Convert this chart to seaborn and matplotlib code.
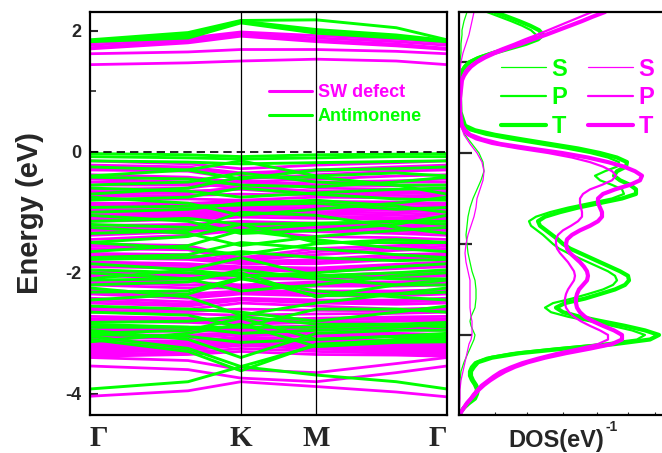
import numpy as np
import pandas as pd
import matplotlib
matplotlib.use("Agg")
import matplotlib.pyplot as plt
import seaborn as sns
from matplotlib.lines import Line2D

sns.set_theme(style="white")
plt.rcParams["font.family"] = ["Liberation Sans", "DejaVu Sans"]
plt.rcParams["axes.unicode_minus"] = False

MAG = "#FF00FF"
GRN = "#00FF00"

# ---------------- band structure data ----------------
kpath_labels = ["Γ", "K", "M", "Γ"]
kpath_pos = [0.0, 1.0, 1.5, 2.366]
kpts = [0.0, 0.65, 1.0, 1.5, 2.03, 2.366]   # Γ, Γ-K, K, M, M-Γ, Γ

# SW defect bands (energies in eV at kpts)
sw_bands = [
    [1.80, 1.88, 1.98, 1.92, 1.86, 1.80],
    [1.76, 1.85, 1.95, 1.88, 1.82, 1.76],
    [1.72, 1.82, 1.93, 1.84, 1.78, 1.71],
    [1.70, 1.80, 1.91, 1.82, 1.75, 1.69],
    [1.62, 1.65, 1.69, 1.69, 1.66, 1.62],
    [1.44, 1.47, 1.50, 1.53, 1.50, 1.44],
    [-0.15, -0.20, -0.28, -0.22, -0.18, -0.15],
    [-0.22, -0.25, -0.35, -0.30, -0.25, -0.22],
    [-0.26, -0.28, -0.38, -0.32, -0.28, -0.26],
    [-0.30, -0.32, -0.45, -0.38, -0.32, -0.30],
    [-0.38, -0.42, -0.50, -0.45, -0.40, -0.38],
    [-0.45, -0.50, -0.55, -0.50, -0.48, -0.45],
    [-0.50, -0.52, -0.60, -0.55, -0.50, -0.50],
    [-0.55, -0.55, -0.48, -0.55, -0.56, -0.55],
    [-0.62, -0.60, -0.50, -0.60, -0.62, -0.62],
    [-0.66, -0.65, -0.62, -0.70, -0.66, -0.66],
    [-0.70, -0.68, -0.58, -0.65, -0.68, -0.70],
    [-0.74, -0.72, -0.70, -0.72, -0.72, -0.74],
    [-0.78, -0.78, -0.80, -0.75, -0.76, -0.78],
    [-0.85, -0.85, -0.82, -0.82, -0.83, -0.85],
    [-0.88, -0.88, -0.86, -0.85, -0.86, -0.88],
    [-0.92, -0.92, -0.90, -0.88, -0.90, -0.92],
    [-0.96, -0.96, -0.93, -0.92, -0.94, -0.96],
    [-1.00, -1.00, -0.95, -0.95, -0.97, -1.00],
    [-1.04, -1.03, -0.98, -0.99, -1.01, -1.04],
    [-1.08, -1.06, -1.00, -1.02, -1.05, -1.08],
    [-1.12, -1.09, -1.04, -1.06, -1.09, -1.12],
    [-1.15, -1.12, -1.08, -1.10, -1.12, -1.15],
    [-1.22, -1.20, -1.15, -1.18, -1.20, -1.22],
    [-1.26, -1.24, -1.18, -1.22, -1.24, -1.26],
    [-1.30, -1.28, -1.22, -1.25, -1.27, -1.30],
    [-1.34, -1.30, -1.25, -1.29, -1.31, -1.34],
    [-1.38, -1.32, -1.28, -1.32, -1.35, -1.38],
    [-1.45, -1.38, -1.30, -1.40, -1.42, -1.45],
    [-1.52, -1.55, -1.75, -1.60, -1.55, -1.52],
    [-1.56, -1.58, -1.78, -1.65, -1.59, -1.56],
    [-1.60, -1.62, -1.80, -1.70, -1.63, -1.60],
    [-1.68, -1.70, -1.82, -1.78, -1.70, -1.68],
    [-1.72, -1.74, -1.84, -1.82, -1.74, -1.72],
    [-1.75, -1.78, -1.85, -1.85, -1.78, -1.75],
    [-1.82, -1.85, -1.90, -1.92, -1.86, -1.82],
    [-1.86, -1.88, -1.92, -1.95, -1.90, -1.86],
    [-1.90, -1.92, -1.95, -1.98, -1.93, -1.90],
    [-1.98, -2.00, -2.00, -2.05, -2.00, -1.98],
    [-2.02, -2.04, -2.05, -2.08, -2.04, -2.02],
    [-2.05, -2.08, -2.10, -2.10, -2.08, -2.05],
    [-2.12, -2.15, -2.20, -2.15, -2.15, -2.12],
    [-2.16, -2.20, -2.22, -2.18, -2.18, -2.16],
    [-2.20, -2.25, -2.25, -2.22, -2.22, -2.20],
    [-2.28, -2.35, -2.30, -2.30, -2.30, -2.28],
    [-2.32, -2.38, -2.32, -2.34, -2.34, -2.32],
    [-2.35, -2.42, -2.35, -2.38, -2.38, -2.35],
    [-2.42, -2.48, -2.42, -2.45, -2.45, -2.42],
    [-2.46, -2.52, -2.44, -2.48, -2.48, -2.46],
    [-2.50, -2.55, -2.45, -2.50, -2.52, -2.50],
    [-2.58, -2.60, -2.50, -2.55, -2.60, -2.58],
    [-2.62, -2.64, -2.60, -2.62, -2.63, -2.62],
    [-2.65, -2.68, -2.70, -2.68, -2.67, -2.65],
    [-2.72, -2.75, -2.78, -2.75, -2.73, -2.72],
    [-2.76, -2.78, -2.82, -2.78, -2.76, -2.76],
    [-2.80, -2.82, -2.85, -2.82, -2.80, -2.80],
    [-2.88, -2.90, -2.90, -2.88, -2.87, -2.88],
    [-2.92, -2.94, -2.92, -2.92, -2.90, -2.92],
    [-2.95, -2.97, -2.95, -2.95, -2.94, -2.95],
    [-3.02, -3.03, -2.98, -3.00, -3.00, -3.02],
    [-3.05, -3.05, -3.00, -3.02, -3.03, -3.05],
    [-3.08, -3.08, -3.02, -3.05, -3.06, -3.08],
    [-3.14, -3.13, -3.06, -3.10, -3.12, -3.14],
    [-3.17, -3.16, -3.08, -3.12, -3.15, -3.17],
    [-3.20, -3.18, -3.10, -3.15, -3.18, -3.20],
    [-3.23, -3.20, -3.12, -3.18, -3.21, -3.23],
    [-3.26, -3.23, -3.15, -3.20, -3.24, -3.26],
    [-3.29, -3.26, -3.18, -3.23, -3.27, -3.29],
    [-3.32, -3.28, -3.20, -3.26, -3.30, -3.32],
    [-3.35, -3.32, -3.25, -3.30, -3.33, -3.35],
    [-3.38, -3.35, -3.30, -3.35, -3.36, -3.38],
    [-3.40, -3.45, -3.60, -3.65, -3.50, -3.40],
    [-3.54, -3.60, -3.74, -3.80, -3.65, -3.54],
    [-4.04, -3.95, -3.80, -3.88, -3.97, -4.05],
]

# Pristine antimonene bands
sb_bands = [
    [1.85, 1.97, 2.17, 2.18, 2.05, 1.85],
    [1.84, 1.94, 2.16, 2.02, 1.93, 1.84],
    [1.83, 1.91, 2.15, 1.98, 1.90, 1.83],
    [1.82, 1.88, 2.13, 1.96, 1.88, 1.82],
    [-0.03, -0.05, -0.08, -0.05, -0.04, -0.03],
    [-0.08, -0.10, -0.12, -0.10, -0.08, -0.08],
    [-0.15, -0.17, -0.20, -0.18, -0.16, -0.15],
    [-0.25, -0.30, -0.45, -0.30, -0.28, -0.25],
    [-0.40, -0.30, -0.15, -0.40, -0.35, -0.40],
    [-0.42, -0.45, -0.55, -0.58, -0.50, -0.42],
    [-0.55, -0.50, -0.35, -0.50, -0.55, -0.55],
    [-0.60, -0.65, -0.75, -0.68, -0.62, -0.60],
    [-0.70, -0.60, -0.42, -0.42, -0.55, -0.70],
    [-0.80, -0.75, -0.60, -0.70, -0.78, -0.80],
    [-0.75, -0.85, -1.05, -0.95, -0.85, -0.75],
    [-0.92, -0.90, -0.88, -0.85, -0.95, -0.92],
    [-1.00, -0.95, -0.85, -0.80, -0.90, -1.00],
    [-1.05, -1.15, -1.35, -1.30, -1.20, -1.05],
    [-1.15, -1.10, -1.20, -1.18, -1.15, -1.15],
    [-1.20, -1.25, -1.30, -1.20, -1.15, -1.20],
    [-1.25, -1.35, -1.55, -1.40, -1.30, -1.25],
    [-1.35, -1.30, -1.00, -1.05, -1.25, -1.35],
    [-1.50, -1.40, -1.20, -1.50, -1.50, -1.50],
    [-1.50, -1.60, -1.70, -1.52, -1.45, -1.50],
    [-1.65, -1.55, -1.30, -1.45, -1.60, -1.65],
    [-1.75, -1.70, -1.50, -1.60, -1.70, -1.75],
    [-1.78, -1.75, -1.65, -1.75, -1.80, -1.78],
    [-1.85, -1.95, -2.05, -2.00, -1.90, -1.85],
    [-1.95, -2.00, -2.05, -2.05, -2.00, -1.95],
    [-2.00, -2.10, -2.30, -2.20, -2.05, -2.00],
    [-2.10, -1.95, -1.75, -2.05, -2.10, -2.10],
    [-2.12, -2.10, -2.00, -2.40, -2.20, -2.12],
    [-2.20, -2.15, -1.95, -2.10, -2.20, -2.20],
    [-2.25, -2.40, -2.70, -2.50, -2.35, -2.25],
    [-2.32, -2.30, -2.08, -2.38, -2.35, -2.32],
    [-2.45, -2.35, -2.10, -2.30, -2.40, -2.45],
    [-2.55, -2.60, -2.65, -2.80, -2.65, -2.55],
    [-2.65, -2.70, -2.90, -2.60, -2.60, -2.65],
    [-2.82, -2.80, -2.72, -2.85, -2.85, -2.82],
    [-2.85, -2.90, -3.00, -2.95, -2.90, -2.85],
    [-2.90, -2.90, -2.90, -2.90, -2.85, -2.90],
    [-2.95, -3.10, -3.40, -3.00, -2.95, -2.95],
    [-3.00, -2.95, -2.75, -3.10, -3.05, -3.00],
    [-3.02, -3.05, -3.15, -3.10, -3.05, -3.02],
    [-3.05, -3.25, -3.55, -3.20, -3.10, -3.05],
    [-3.10, -3.30, -3.62, -3.18, -3.12, -3.10],
    [-3.14, -3.00, -2.85, -3.22, -3.15, -3.14],
    [-3.92, -3.80, -3.55, -3.69, -3.80, -3.92],
]

# ---------------- DOS data ----------------
# s-projected DOS (thin lines), coarse energy grid
dos_energy_s = [1.55, 1.45, 1.35, 1.3, 1.2, 1.1, 1.0, 0.9, 0.8, 0.6, 0.4, 0.3, 0.2, 0.1,
                0.0, -0.1, -0.2, -0.3, -0.4, -0.5, -0.6, -0.7, -0.8, -0.9, -1.0, -1.1,
                -1.2, -1.3, -1.4, -1.5, -1.6, -1.7, -1.8, -1.85, -1.9, -1.95, -2.0, -2.05,
                -2.1, -2.15, -2.2, -2.3, -2.4, -2.5, -2.6, -2.7, -2.8, -2.87]
sb_dos_s = [0.8, 0.5, 0.3, 0.3, 0.2, 0.2, 0.1, 0.1, 0.1, 0.1, 0.1, 0.2, 0.6, 1.3, 2.0, 2.4,
            2.5, 2.2, 1.8, 1.4, 1.1, 0.9, 0.8, 0.7, 0.8, 0.9, 1.1, 1.3, 1.6, 1.7, 1.7, 1.6,
            1.2, 1.1, 1.2, 1.4, 1.6, 1.5, 1.3, 1.1, 0.9, 0.5, 0.2, 0.1, 0.05, 0.05, 0.05, 0.05]
sw_dos_s = [1.5, 1.3, 1.1, 1.0, 0.7, 0.4, 0.2, 0.1, 0.1, 0.1, 0.1, 0.2, 0.5, 1.1, 1.8, 2.3,
            2.5, 2.4, 2.1, 1.8, 1.7, 1.5, 1.2, 0.9, 0.7, 0.6, 0.7, 0.9, 1.1, 1.1, 1.1, 1.1,
            1.2, 1.3, 1.3, 1.3, 1.3, 1.2, 1.0, 0.9, 0.8, 0.6, 0.4, 0.2, 0.1, 0.1, 0.05, 0.05]

# p-projected and total DOS, finer energy grid
dos_energy = [1.55, 1.50, 1.45, 1.40, 1.35, 1.30, 1.25, 1.20, 1.15, 1.10, 1.05, 1.00, 0.95,
              0.90, 0.85, 0.80, 0.60, 0.45,
              0.30, 0.25, 0.20, 0.15, 0.10, 0.05, 0.00, -0.05, -0.10, -0.15, -0.20, -0.25,
              -0.30, -0.35, -0.40, -0.45, -0.50, -0.55, -0.60, -0.65, -0.70, -0.75, -0.80,
              -0.85, -0.90, -0.95, -1.00, -1.05, -1.10, -1.15, -1.20, -1.25, -1.30, -1.35,
              -1.40, -1.45, -1.50, -1.55, -1.60, -1.65, -1.70, -1.75, -1.80, -1.85, -1.90,
              -1.95, -2.00, -2.05, -2.10, -2.15, -2.20, -2.25, -2.30, -2.35, -2.40, -2.45,
              -2.50, -2.55, -2.60, -2.65, -2.70, -2.75, -2.80, -2.85, -2.88]
sb_dos_p = [2.8, 4.0, 5.2, 6.3, 7.2, 7.7, 7.3, 6.1, 4.6, 3.1, 1.8, 0.9, 0.5, 0.25, 0.15, 0.1,
            0.1, 0.13,
            0.4, 1.1, 2.7, 5.1, 7.9, 10.7, 13.1, 14.9, 16.0, 15.8, 14.6, 13.6, 14.1, 15.3,
            16.3, 16.5, 15.3, 13.1, 10.9, 9.1, 7.7, 7.0, 7.2, 7.8, 8.4, 8.9, 9.4, 10.0, 10.9,
            11.9, 12.9, 13.9, 14.9, 15.6, 15.8, 15.4, 14.4, 12.9, 11.3, 9.4, 8.6, 9.2, 10.9,
            13.1, 15.3, 17.3, 18.6, 17.8, 14.3, 9.5, 5.3, 2.8, 1.6, 1.2, 1.0, 1.0, 1.2, 1.5,
            1.7, 1.6, 1.4, 0.8, 0.4, 0.13, 0.1]
sb_dos_t = [3.6, 4.8, 6.0, 7.1, 8.0, 8.4, 7.9, 6.7, 5.1, 3.5, 2.1, 1.1, 0.6, 0.3, 0.2, 0.15,
            0.1, 0.15,
            0.6, 1.6, 3.6, 6.3, 9.1, 11.9, 14.1, 15.8, 16.8, 16.7, 15.8, 15.5, 16.1, 17.1,
            17.7, 17.7, 16.3, 14.1, 11.9, 10.1, 8.6, 7.9, 8.1, 8.7, 9.3, 9.9, 10.4, 11.1,
            12.1, 13.1, 14.1, 15.1, 16.1, 16.9, 17.0, 16.6, 15.6, 14.1, 12.6, 10.6, 9.7,
            10.4, 12.1, 14.3, 16.6, 18.6, 20.0, 19.1, 15.6, 10.6, 6.1, 3.3, 1.9, 1.5, 1.2,
            1.2, 1.4, 1.7, 1.9, 1.8, 1.6, 1.0, 0.5, 0.15, 0.1]
sw_dos_p = [13.3, 12.2, 11.1, 10.0, 8.9, 7.8, 6.6, 5.5, 4.3, 3.2, 2.3, 1.6, 1.0, 0.6, 0.4, 0.2,
            0.1, 0.1,
            0.2, 0.4, 0.8, 1.7, 3.3, 5.9, 8.9, 11.3, 13.1, 14.4, 15.3, 15.7, 15.3, 14.3, 13.1,
            12.4, 12.1, 12.1, 12.2, 12.3, 12.3, 11.9, 11.2, 10.4, 9.9, 9.7, 9.7, 9.8, 10.1,
            10.5, 10.9, 11.2, 11.5, 11.6, 11.5, 11.2, 10.9, 10.7, 10.6, 10.6, 10.7, 11.0,
            11.5, 12.2, 13.1, 14.1, 14.9, 14.9, 13.9, 11.9, 9.7, 7.9, 6.3, 5.1, 4.1, 3.4, 2.8,
            2.2, 1.8, 1.4, 1.1, 0.7, 0.4, 0.2, 0.1]
sw_dos_t = [14.6, 13.4, 12.3, 11.1, 9.9, 8.7, 7.4, 6.2, 4.8, 3.6, 2.6, 1.8, 1.2, 0.8, 0.5, 0.3,
            0.1, 0.1,
            0.3, 0.6, 1.1, 2.3, 4.1, 7.1, 10.3, 12.9, 14.9, 16.5, 17.6, 18.3, 18.1, 17.1,
            15.6, 14.4, 13.9, 13.9, 14.1, 14.3, 14.3, 13.9, 13.1, 12.1, 11.3, 10.8, 10.7,
            10.8, 11.1, 11.6, 12.1, 12.5, 12.8, 12.9, 12.8, 12.4, 12.0, 11.8, 11.7, 11.7,
            11.8, 12.1, 12.6, 13.4, 14.4, 15.5, 16.3, 16.3, 15.3, 13.1, 10.7, 8.6, 6.9, 5.6,
            4.6, 3.8, 3.1, 2.5, 2.0, 1.6, 1.2, 0.8, 0.5, 0.2, 0.1]

legend_labels = ["SW defect", "Antimonene"]
dos_labels = ["S", "P", "T"]


def bands_frame(bands):
    rows = []
    for b, vals in enumerate(bands):
        for k, e in zip(kpts, vals):
            rows.append({"band": b, "k": k, "E": e})
    return pd.DataFrame(rows)


fig = plt.figure(figsize=(6.62, 4.53), dpi=100)
W, H = 662, 453
ax = fig.add_axes([90 / W, (H - 415) / H, (447 - 90) / W, (415 - 12) / H])
ax2 = fig.add_axes([459 / W, (H - 415) / H, (665 - 459) / W, (415 - 12) / H])

# ---- bands ----
sns.lineplot(data=bands_frame(sw_bands), x="k", y="E", units="band", estimator=None,
             sort=False, color=MAG, lw=2.0, ax=ax, legend=False)
sns.lineplot(data=bands_frame(sb_bands), x="k", y="E", units="band", estimator=None,
             sort=False, color=GRN, lw=2.1, ax=ax, legend=False)
for xv in kpath_pos[1:3]:
    ax.axvline(xv, color="black", lw=0.9, zorder=5)
ax.axhline(0, color="black", lw=1.2, ls=(0, (5, 3)), zorder=5)
ax.set_xlim(kpath_pos[0], kpath_pos[-1])
ax.set_ylim(-4.35, 2.31)
ax.set_xticks(kpath_pos)
ax.set_xticklabels(kpath_labels, fontfamily=["Liberation Serif", "DejaVu Serif"],
                   fontsize=21, fontweight="bold")
xl = ax.get_xticklabels()
xl[0].set_ha("left")
xl[-1].set_ha("right")
ax.tick_params(axis="x", length=0, pad=7)
ax.set_yticks([2, 0, -2, -4])
ax.set_yticklabels(["2", "0", "-2", "-4"], fontsize=13, fontweight="bold")
ax.set_yticks([1, -1, -3], minor=True)
ax.tick_params(axis="y", which="major", direction="in", length=6, width=1.5, pad=6,
               left=True)
ax.tick_params(axis="y", which="minor", direction="in", length=4, width=1.2, left=True)
ax.set_xlabel("")
ax.set_ylabel("Energy (eV)", fontsize=21, fontweight="bold")
ax.yaxis.set_label_coords(-0.168, 0.5)
ax.yaxis.label.set_va("center")
for s in ax.spines.values():
    s.set_linewidth(1.6)
    s.set_color("black")
    s.set_zorder(6)

handles = [Line2D([], [], color=MAG, lw=2.2), Line2D([], [], color=GRN, lw=2.2)]
ax.legend(handles, legend_labels, loc="center left",
          bbox_to_anchor=((269 - 90) / 357, (415 - 104.5) / 403), frameon=False,
          prop={"size": 13, "weight": "bold"}, labelcolor=[MAG, GRN], handlelength=2.4,
          handletextpad=0.3, labelspacing=0.4, borderpad=0, borderaxespad=0)

# ---- DOS ----
dos_sets = [
    (dos_energy_s, sb_dos_s, GRN, 0.9), (dos_energy, sb_dos_p, GRN, 1.6),
    (dos_energy, sb_dos_t, GRN, 3.0),
    (dos_energy_s, sw_dos_s, MAG, 0.9), (dos_energy, sw_dos_p, MAG, 1.6),
    (dos_energy, sw_dos_t, MAG, 3.0),
]
for ener, vals, col, lw in dos_sets:
    sns.lineplot(x=vals, y=ener, orient="y", sort=False, estimator=None,
                 color=col, lw=lw, ax=ax2, legend=False)
ax2.set_ylim(-2.88, 1.55)
ax2.set_xlim(0, 20.6)
ax2.set_yticks([1, 0, -1, -2])
ax2.set_yticklabels([])
ax2.tick_params(axis="y", direction="in", length=9, width=1.6, left=True)
ax2.set_xticks([3.6, 6.8, 10.4, 13.8, 16.9, 19.6])
ax2.set_xticklabels([])
ax2.tick_params(axis="x", direction="in", length=2, width=0.8, bottom=True)
ax2.set_xlabel("")
ax2.set_ylabel("")
ax2.spines["right"].set_visible(False)
for s in ["left", "top", "bottom"]:
    ax2.spines[s].set_linewidth(1.6)
    ax2.spines[s].set_color("black")

g_handles = [Line2D([], [], color=GRN, lw=w) for w in (0.9, 1.6, 3.0)]
m_handles = [Line2D([], [], color=MAG, lw=w) for w in (0.9, 1.6, 3.0)]
leg1 = ax2.legend(g_handles, dos_labels, loc="center left",
                  bbox_to_anchor=((501 - 459) / 206, (415 - 98) / 403), frameon=False,
                  prop={"size": 17, "weight": "bold"}, labelcolor=GRN, handlelength=1.9,
                  handletextpad=0.25, labelspacing=0.25, borderpad=0, borderaxespad=0)
ax2.add_artist(leg1)
ax2.legend(m_handles, dos_labels, loc="center left",
           bbox_to_anchor=((588 - 459) / 206, (415 - 98) / 403), frameon=False,
           prop={"size": 17, "weight": "bold"}, labelcolor=MAG, handlelength=1.9,
           handletextpad=0.25, labelspacing=0.25, borderpad=0, borderaxespad=0)

fig.text(556 / W, 1 - 440 / H, "DOS(eV)", fontsize=17, fontweight="bold",
         ha="center", va="center")
fig.text(606 / W, 1 - 427 / H, "-1", fontsize=10, fontweight="bold",
         ha="left", va="center")

fig.savefig("out.png", dpi=100)
